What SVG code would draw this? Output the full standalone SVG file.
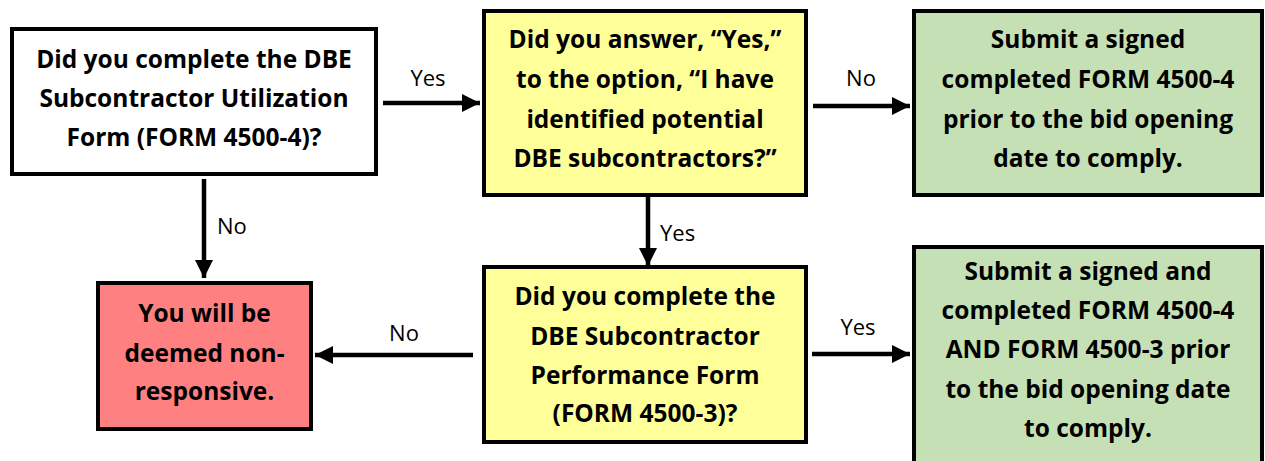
<svg xmlns="http://www.w3.org/2000/svg" width="1265" height="461" viewBox="0 0 1265 461">
<style>
.box{stroke:#000;stroke-width:4}
.t{font-family:"Open Sans",Lato,sans-serif;font-weight:bold;font-size:24.5px;fill:#000;text-anchor:middle}
.l{font-family:"Open Sans",Lato,sans-serif;font-size:22px;fill:#000}
.c{stroke:#000;stroke-width:4.5;fill:none}
</style>
<defs>
<marker id="ah" markerUnits="userSpaceOnUse" markerWidth="20" markerHeight="18" refX="18" refY="9" orient="auto">
<path d="M0,0 L18,9 L0,18 Z" fill="#000"/>
</marker>
</defs>
<rect width="1265" height="461" fill="#fff"/>
<g id="connectors">
<line class="c" x1="383" y1="103" x2="480" y2="103" marker-end="url(#ah)"/>
<text class="l" x="428" y="86" text-anchor="middle">Yes</text>
<line class="c" x1="813" y1="106" x2="910" y2="106" marker-end="url(#ah)"/>
<text class="l" x="861" y="86" text-anchor="middle">No</text>
<line class="c" x1="204" y1="179" x2="204" y2="278" marker-end="url(#ah)"/>
<text class="l" x="217" y="234">No</text>
<line class="c" x1="648" y1="197" x2="648" y2="266" marker-end="url(#ah)"/>
<text class="l" x="660" y="241">Yes</text>
<line class="c" x1="473" y1="355" x2="315" y2="355" marker-end="url(#ah)"/>
<text class="l" x="404" y="341" text-anchor="middle">No</text>
<line class="c" x1="812" y1="354" x2="910" y2="354" marker-end="url(#ah)"/>
<text class="l" x="858" y="335" text-anchor="middle">Yes</text>
</g>
<g id="q1">
<rect class="box" x="12" y="29" width="364" height="145" fill="#fff"/>
<text class="t" x="194" y="68">Did you complete the DBE</text>
<text class="t" x="194" y="107">Subcontractor Utilization</text>
<text class="t" x="194" y="146">Form (FORM 4500-4)?</text>
</g>
<g id="q2">
<rect class="box" x="484" y="11" width="322" height="184" fill="#FFFF99"/>
<text class="t" x="645" y="48">Did you answer, “Yes,”</text>
<text class="t" x="645" y="88">to the option, “I have</text>
<text class="t" x="645" y="128">identified potential</text>
<text class="t" x="645" y="167">DBE subcontractors?”</text>
</g>
<g id="r1">
<rect class="box" x="914" y="11" width="348" height="184" fill="#C5E0B4"/>
<text class="t" x="1088" y="48">Submit a signed</text>
<text class="t" x="1088" y="88">completed FORM 4500-4</text>
<text class="t" x="1088" y="128">prior to the bid opening</text>
<text class="t" x="1088" y="167">date to comply.</text>
</g>
<g id="r2">
<rect class="box" x="98" y="283" width="213" height="146" fill="#FF8080"/>
<text class="t" x="204.5" y="322">You will be</text>
<text class="t" x="204.5" y="362">deemed non-</text>
<text class="t" x="204.5" y="400">responsive.</text>
</g>
<g id="q3">
<rect class="box" x="484" y="267" width="322" height="175" fill="#FFFF99"/>
<text class="t" x="645" y="305">Did you complete the</text>
<text class="t" x="645" y="345">DBE Subcontractor</text>
<text class="t" x="645" y="384">Performance Form</text>
<text class="t" x="645" y="422">(FORM 4500-3)?</text>
</g>
<g id="r3">
<rect class="box" x="914" y="247" width="348" height="240" fill="#C5E0B4"/>
<text class="t" x="1088" y="280">Submit a signed and</text>
<text class="t" x="1088" y="319">completed FORM 4500-4</text>
<text class="t" x="1088" y="358">AND FORM 4500-3 prior</text>
<text class="t" x="1088" y="398">to the bid opening date</text>
<text class="t" x="1088" y="437">to comply.</text>
</g>
</svg>
